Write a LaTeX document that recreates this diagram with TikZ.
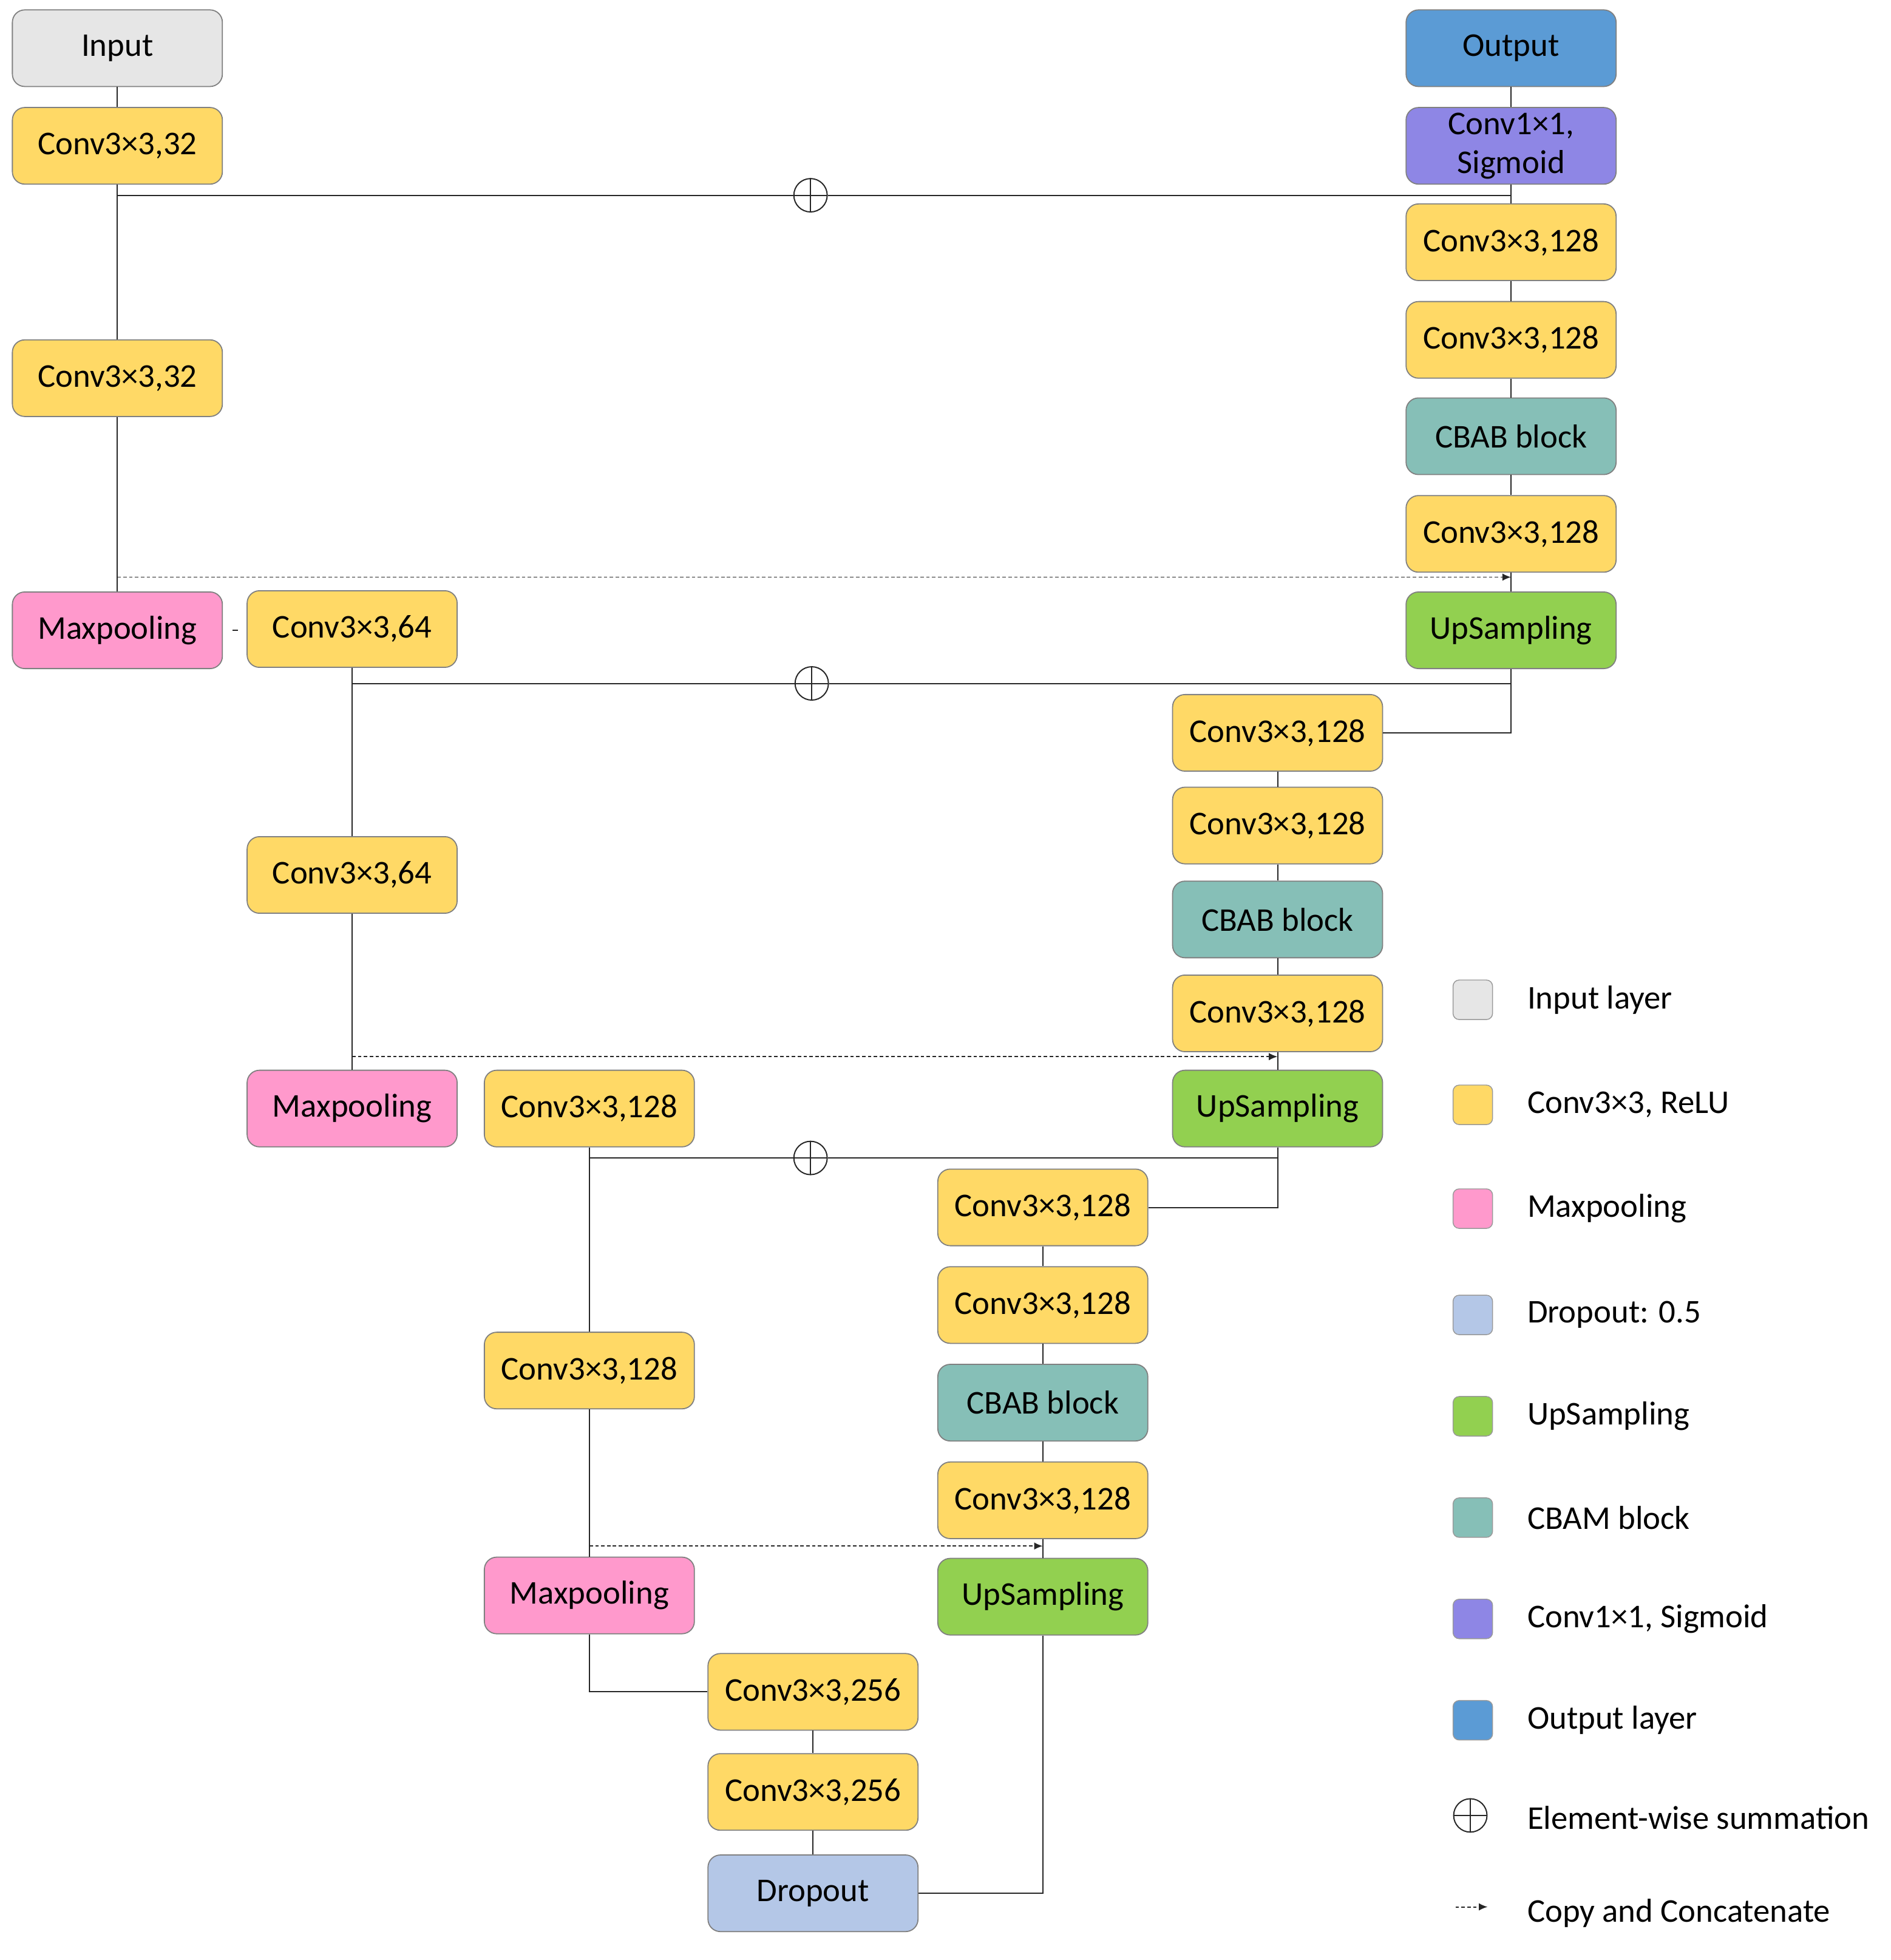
\documentclass[tikz,border=0pt]{standalone}
\usepackage{fontspec}
\setmainfont{Carlito}
\usetikzlibrary{arrows.meta}

\definecolor{inputgray}{HTML}{E6E6E6}
\definecolor{convyellow}{HTML}{FFD966}
\definecolor{poolpink}{HTML}{FF99CC}
\definecolor{dropblue}{HTML}{B4C7E7}
\definecolor{upgreen}{HTML}{92D050}
\definecolor{cbamteal}{HTML}{86BFB7}
\definecolor{sigpurple}{HTML}{8E86E5}
\definecolor{outblue}{HTML}{5B9BD5}

\tikzset{
    block/.style={draw=black!50, line width=0.5pt, rounded corners=0.2cm,
        minimum width=3.4cm, minimum height=1.24cm, inner sep=0pt, align=center},
    inlayer/.style={block, fill=inputgray},
    conv/.style={block, fill=convyellow},
    pool/.style={block, fill=poolpink},
    drop/.style={block, fill=dropblue},
    upsamp/.style={block, fill=upgreen},
    cbab/.style={block, fill=cbamteal},
    sigm/.style={block, fill=sigpurple},
    outlayer/.style={block, fill=outblue},
    link/.style={draw=black!85, line width=0.55pt},
    copyline/.style={link, dash pattern=on 1.6pt off 1.1pt, -{Latex[length=4pt,width=3.4pt]}},
    summ/.style={circle, draw=black!85, line width=0.55pt, fill=white,
        minimum size=0.54cm, inner sep=0pt,
        path picture={\draw[black!85, line width=0.55pt]
            (path picture bounding box.north) -- (path picture bounding box.south)
            (path picture bounding box.west) -- (path picture bounding box.east);}},
    legbox/.style={draw=black!40, line width=0.4pt, rounded corners=0.1cm,
        minimum size=0.64cm, inner sep=0pt},
}

\begin{document}
\begin{tikzpicture}[x=0.02cm, y=-0.02cm, font=\fontsize{15.3}{18}\selectfont]
    \useasboundingbox (0,0) rectangle (1530,1586);

    % Encoder
    \node[inlayer] (in)    at (95,39)   {Input};
    \node[conv]    (enc1a) at (95,118)  {Conv3×3,32};
    \node[conv]    (enc1b) at (95,306)  {Conv3×3,32};
    \node[pool]    (pool1) at (95,510)  {Maxpooling};
    \node[conv]    (enc2a) at (285,509) {Conv3×3,64};
    \node[conv]    (enc2b) at (285,708) {Conv3×3,64};
    \node[pool]    (pool2) at (285,897) {Maxpooling};
    \node[conv]    (enc3a) at (477,897) {Conv3×3,128};
    \node[conv]    (enc3b) at (477,1109) {Conv3×3,128};
    \node[pool]    (pool3) at (477,1291) {Maxpooling};

    % Bottom
    \node[conv] (bot1) at (658,1369) {Conv3×3,256};
    \node[conv] (bot2) at (658,1450) {Conv3×3,256};
    \node[drop] (drop) at (658,1532) {Dropout};

    % Decoder
    \node[outlayer] (out)   at (1223,39)  {Output};
    \node[sigm]     (sig)   at (1223,118) {Conv1×1,\\Sigmoid};
    \node[conv]     (dec1a) at (1223,196) {Conv3×3,128};
    \node[conv]     (dec1b) at (1223,275) {Conv3×3,128};
    \node[cbab]     (cbab1) at (1223,353) {CBAB block};
    \node[conv]     (dec1c) at (1223,432) {Conv3×3,128};
    \node[upsamp]   (up1)   at (1223,510) {UpSampling};

    \node[conv]   (dec2a) at (1034,593) {Conv3×3,128};
    \node[conv]   (dec2b) at (1034,668) {Conv3×3,128};
    \node[cbab]   (cbab2) at (1034,744) {CBAB block};
    \node[conv]   (dec2c) at (1034,820) {Conv3×3,128};
    \node[upsamp] (up2)   at (1034,897) {UpSampling};

    \node[conv]   (dec3a) at (844,977)  {Conv3×3,128};
    \node[conv]   (dec3b) at (844,1056) {Conv3×3,128};
    \node[cbab]   (cbab3) at (844,1135) {CBAB block};
    \node[conv]   (dec3c) at (844,1214) {Conv3×3,128};
    \node[upsamp] (up3)   at (844,1292) {UpSampling};

    % Summation points
    \node[summ] (sum1) at (656,158) {};
    \node[summ] (sum2) at (657,553) {};
    \node[summ] (sum3) at (656,937) {};

    % Copy points
    \coordinate (cp1) at (95,467);
    \coordinate (cp2) at (285,855);
    \coordinate (cp3) at (477,1251);

    % Encoder links
    \draw[link] (in) -- (enc1a) -- (enc1b) -- (pool1);
    \draw[link] ([xshift=0.16cm]pool1.east) -- ([xshift=0.24cm]pool1.east);
    \draw[link] (enc2a) -- (enc2b) -- (pool2);
    \draw[link] (enc3a) -- (enc3b) -- (pool3);
    \draw[link] (pool3.south) |- (bot1.west);
    \draw[link] (bot1) -- (bot2) -- (drop);
    \draw[link] (drop.east) -| (up3.south);

    % Decoder links
    \draw[link] (out) -- (sig) -- (dec1a) -- (dec1b) -- (cbab1) -- (dec1c) -- (up1);
    \draw[link] (up1.south) |- (dec2a.east);
    \draw[link] (dec2a) -- (dec2b) -- (cbab2) -- (dec2c) -- (up2);
    \draw[link] (up2.south) |- (dec3a.east);
    \draw[link] (dec3a) -- (dec3b) -- (cbab3) -- (dec3c) -- (up3);

    % Residual sums
    \draw[link] (enc1a |- sum1) -- (sum1) -- (sum1 -| sig);
    \draw[link] (enc2a |- sum2) -- (sum2) -- (sum2 -| up1);
    \draw[link] (enc3a |- sum3) -- (sum3) -- (sum3 -| up2);

    % Copy and concatenate
    \draw[copyline] (cp1) -- (cp1 -| up1);
    \draw[copyline] (cp2) -- (cp2 -| up2);
    \draw[copyline] (cp3) -- (cp3 -| up3);

    % Legend
    \foreach \col/\txt/\y [count=\i] in {inputgray/{Input layer}/809,
            convyellow/{Conv3×3, ReLU}/894, poolpink/{Maxpooling}/978,
            dropblue/{Dropout: 0.5}/1064, upgreen/{UpSampling}/1146,
            cbamteal/{CBAM block}/1228, sigpurple/{Conv1×1, Sigmoid}/1310,
            outblue/{Output layer}/1392} {
        \node[legbox, fill=\col] (leg\i) at (1192,\y) {};
        \node[anchor=west] (legtxt\i) at (1230,\y) {\txt};
    }
    \node[summ] (legsum) at (1190,1469) {};
    \node[anchor=west] (legsumtxt) at (1230,1471) {Element-wise summation};
    \coordinate (legcpa) at (1178,1543);
    \coordinate (legcpb) at (1204,1543);
    \draw[copyline] (legcpa) -- (legcpb);
    \node[anchor=west] (legcptxt) at (1230,1548) {Copy and Concatenate};
\end{tikzpicture}
\end{document}
